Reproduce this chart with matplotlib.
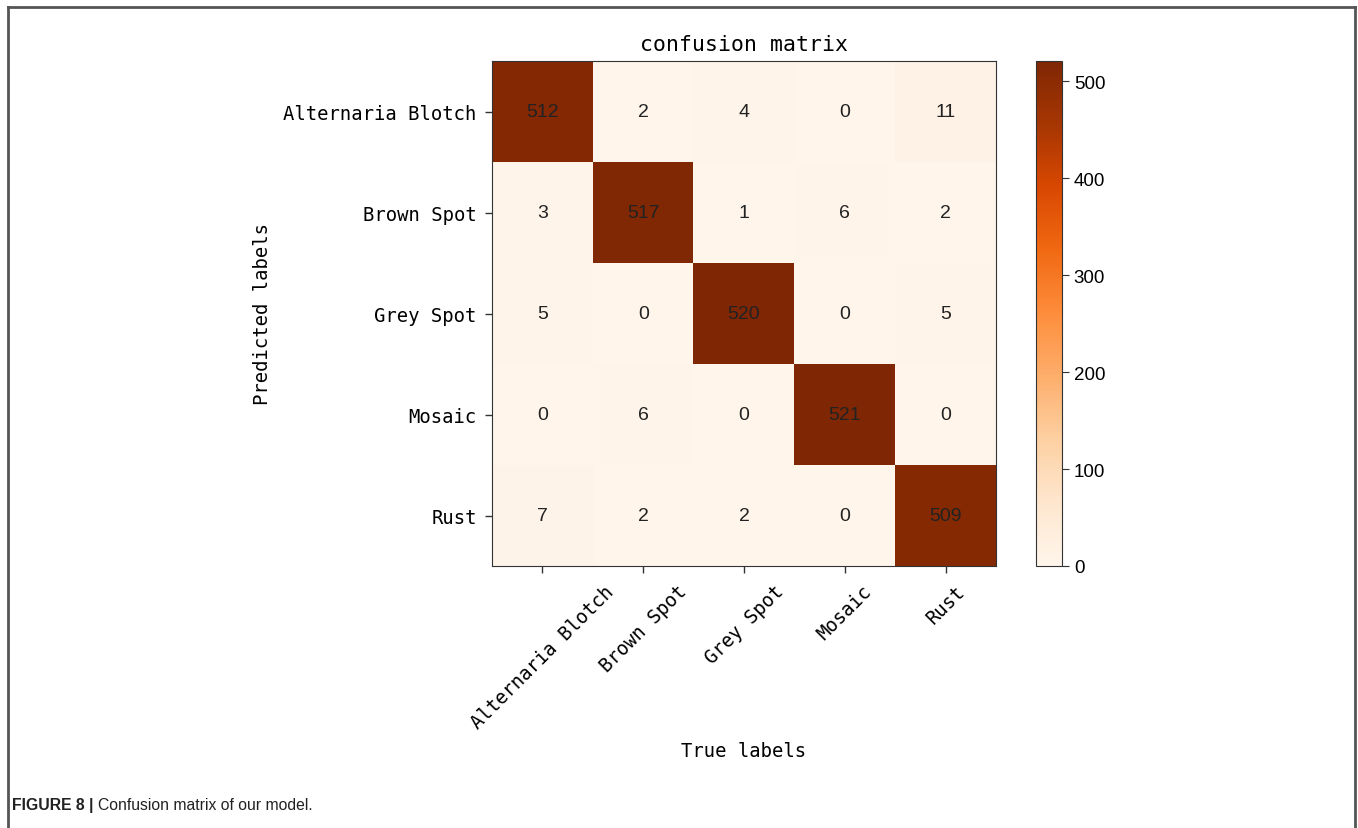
import matplotlib
matplotlib.use("Agg")
import matplotlib.pyplot as plt
import numpy as np
from matplotlib.lines import Line2D

classes = ["Alternaria Blotch", "Brown Spot", "Grey Spot", "Mosaic", "Rust"]
counts = [
    [512, 2, 4, 0, 11],
    [3, 517, 1, 6, 2],
    [5, 0, 520, 0, 5],
    [0, 6, 0, 521, 0],
    [7, 2, 2, 0, 509],
]
cbar_ticks = [0, 100, 200, 300, 400, 500]

W, H = 1358, 829
fig = plt.figure(figsize=(W / 100, H / 100), dpi=100)
mono = "DejaVu Sans Mono"
sans = "Liberation Sans"

def fx(px):
    return px / W

def fy(py):
    return 1 - py / H

mat = np.array(counts)
ax = fig.add_axes([fx(492), fy(567), fx(996) - fx(492), fy(62) - fy(567)])
im = ax.imshow(mat, cmap="Oranges", vmin=0, vmax=mat.max(), aspect="auto")

for i in range(mat.shape[0]):
    for j in range(mat.shape[1]):
        ax.text(j, i, str(mat[i, j]), ha="center", va="center",
                fontsize=14, family=sans, color="#222222")

ax.set_xticks(range(len(classes)))
ax.set_yticks(range(len(classes)))
ax.set_xticklabels(classes, rotation=45, family=mono, fontsize=13.6)
ax.set_yticklabels(classes, family=mono, fontsize=13.6)
ax.tick_params(length=5, width=1, color="#333333", pad=6)
for s in ax.spines.values():
    s.set_color("#333333")
ax.set_title("confusion matrix", family=mono, fontsize=15.5, pad=8)
ax.set_xlabel("True labels", family=mono, fontsize=13.6, labelpad=7)
ax.set_ylabel("Predicted labels", family=mono, fontsize=13.6, labelpad=8)

cax = fig.add_axes([fx(1036), fy(567), fx(1062) - fx(1036), fy(62) - fy(567)])
cb = fig.colorbar(im, cax=cax, ticks=cbar_ticks)
cb.ax.tick_params(labelsize=13.5, length=5, color="#333333")
for t in cb.ax.get_yticklabels():
    t.set_family(sans)
cb.outline.set_edgecolor("#333333")

# page frame around the figure
fc = "#555555"
fig.add_artist(Line2D([fx(8), fx(1355)], [fy(8), fy(8)], color=fc, lw=2))
fig.add_artist(Line2D([fx(8), fx(8)], [fy(8), 0], color=fc, lw=2))
fig.add_artist(Line2D([fx(1355), fx(1355)], [fy(8), 0], color=fc, lw=2))

t1 = fig.text(fx(12), fy(806), "FIGURE 8 | ", family=sans, fontsize=11.3,
              fontweight="bold", va="center", ha="left", color="#222222")
fig.canvas.draw()
bb = t1.get_window_extent()
fig.text(bb.x1 / W, fy(806), "Confusion matrix of our model.", family=sans,
         fontsize=11.3, va="center", ha="left", color="#222222")

fig.savefig("out.png", dpi=100)
